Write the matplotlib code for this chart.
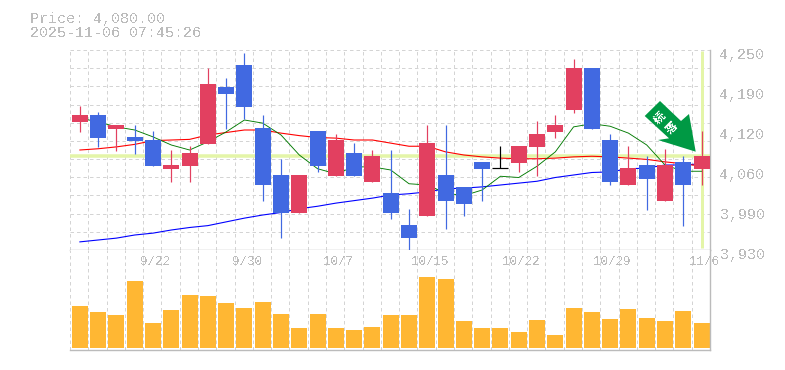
import matplotlib
matplotlib.use("Agg")
import matplotlib.pyplot as plt
from matplotlib.patches import Polygon
from matplotlib.transforms import ScaledTranslation
import numpy as np

plt.rcParams['font.family'] = ['Liberation Mono', 'Noto Sans CJK JP', 'DejaVu Sans']
plt.rcParams['text.antialiased'] = False

price_text = "Price: 4,080.00"
time_text = "2025-11-06 07:45:26"
last_price = 4080

opens = [4135, 4146, 4124, 4111, 4106, 4060, 4064, 4100, 4191, 4226, 4125, 4050,
         3989, 4120, 4048, 4085, 4039, 4021, 3970, 3984, 4050, 4031, 4071, 4061,
         4069, 4095, 4119, 4154, 4221, 4106, 4034, 4066, 4008, 4071, 4060]
closes = [4146, 4109, 4130, 4104, 4064, 4066, 4085, 4196, 4180, 4159, 4034, 3989,
          4050, 4064, 4106, 4048, 4080, 3989, 3949, 4101, 4008, 4004, 4060, 4061,
          4096, 4116, 4130, 4221, 4124, 4039, 4061, 4044, 4066, 4034, 4080]
highs = [4160, 4151, 4130, 4130, 4120, 4090, 4096, 4221, 4205, 4245, 4146, 4076,
         4050, 4120, 4116, 4101, 4090, 4090, 3996, 4130, 4130, 4031, 4071, 4096,
         4096, 4136, 4146, 4236, 4221, 4116, 4096, 4080, 4092, 4080, 4120]
lows = [4119, 4095, 4088, 4084, 4064, 4039, 4039, 4100, 4124, 4140, 4008, 3949,
        3989, 4055, 4048, 4048, 4039, 3980, 3930, 3984, 3964, 3984, 4008, 4061,
        4055, 4048, 4109, 4149, 4124, 4034, 4034, 3994, 4008, 3968, 4034]

ma_short = [4141, 4135, 4127, 4122, 4111, 4098, 4090, 4103, 4119, 4138, 4133, 4114,
            4082, 4060, 4052, 4063, 4063, 4058, 4036, 4034, 4021, 4017, 4026, 4048,
            4046, 4064, 4087, 4127, 4132, 4128, 4117, 4098, 4066, 4056, 4056]
ma_mid = [4090, 4092, 4095, 4099, 4105, 4106, 4107, 4114, 4118, 4122, 4122, 4117,
          4113, 4110, 4109, 4106, 4106, 4101, 4096, 4096, 4087, 4082, 4079, 4077,
          4076, 4076, 4077, 4079, 4080, 4079, 4077, 4075, 4071, 4068, 4064]
ma_long = [3943, 3946, 3949, 3954, 3957, 3962, 3966, 3969, 3975, 3981, 3986, 3990,
           3996, 4000, 4005, 4009, 4013, 4018, 4020, 4023, 4028, 4029, 4031, 4034,
           4037, 4040, 4046, 4050, 4054, 4055, 4060, 4061, 4066, 4066, 4068]

volumes = [42, 36, 33, 67, 25, 38, 53, 52, 45, 40, 46, 34, 20, 34, 20, 18, 21, 33,
           33, 71, 69, 27, 20, 20, 16, 28, 13, 40, 36, 29, 39, 30, 27, 37, 25]

date_idx = [4, 9, 14, 19, 24, 29, 34]
date_labels = ["9/22", "9/30", "10/7", "10/15", "10/22", "10/29", "11/6"]
price_ticks = [4250, 4186, 4122, 4058, 3994, 3930]
price_labels = ["4,250", "4,190", "4,120", "4,060", "3,990", "3,930"]

RED = '#E24060'
BLUE = '#4169E1'
LIME = '#E4F5A8'
GRID = '#D4D4D4'
AXIS = '#BBBBBB'
TEXT = '#BCBCBC'

W, H = 785, 370
fig = plt.figure(figsize=(W / 100, H / 100), dpi=100)
ax = fig.add_axes([70 / W, 1 - 250 / H, 640 / W, 200 / H])
vol = fig.add_axes([70 / W, 1 - 350 / H, 640 / W, 100 / H])

n = len(opens)
x = np.arange(n)
edges = np.arange(n + 1) - 0.5
body_w = 0.875
px = 72 / 100

# price panel, shifted a touch so candles sit right of the slot centre
xlim = (-0.54, n - 0.54)
ax.set_xlim(*xlim)
ax.set_ylim(3930, 4250)
dash = (0, (3.5, 3))
ax.hlines(np.linspace(3930, 4250, 12)[1:], xlim[0], xlim[1], color=GRID, lw=1.0 * px, linestyle=dash, zorder=1, clip_on=False)
ax.vlines(edges[:-1] - 0.04, 3930, 4250, color=GRID, lw=1.0 * px, linestyle=dash, zorder=1, clip_on=False)

ax.axhline(last_price, color=LIME, lw=3.5 * px, zorder=2)
ax.vlines(n - 1, 3933, 4248, color=LIME, lw=3 * px, zorder=2)

ax.plot(x, ma_long, color='#0000FF', lw=1.1 * px, zorder=3)
ax.plot(x, ma_mid, color='#FF0000', lw=1.1 * px, zorder=3)
ax.plot(x, ma_short, color='#007A00', lw=0.9 * px, zorder=3)

for i in x:
    o, c = opens[i], closes[i]
    col = RED if c > o else BLUE if c < o else 'black'
    ax.vlines(i, lows[i], highs[i], color=col, lw=1.2 * px, zorder=4)
    if o == c:
        ax.hlines(o, i - body_w / 2, i + body_w / 2, color=col, lw=1.2 * px, zorder=4)
    else:
        ax.bar(i, abs(c - o), bottom=min(o, c), width=body_w, color=col, lw=0, zorder=5)

for s in ['left', 'top']:
    ax.spines[s].set_visible(False)
for s in ['right', 'bottom']:
    ax.spines[s].set_color(AXIS)
    ax.spines[s].set_linewidth(1.4 * px)
ax.set_xticks([])
ax.yaxis.tick_right()
ax.set_yticks(price_ticks)
ax.set_yticklabels(price_labels, color=TEXT, fontsize=10.8)
ax.tick_params(axis='y', length=0, pad=7)
drop = ScaledTranslation(0, -3 / 100, fig.dpi_scale_trans)
for t in ax.get_yticklabels():
    t.set_transform(t.get_transform() + drop)

# volume panel
vol.set_xlim(*xlim)
vol.set_ylim(-2, 98)
vol.vlines(edges[:-1] - 0.04, -2, 98, color=GRID, lw=1.0 * px, linestyle=dash, zorder=1)
vol.bar(x, volumes, width=body_w, color='#FFB733', lw=0, zorder=2)
for s in ['left', 'top']:
    vol.spines[s].set_visible(False)
for s in ['right', 'bottom']:
    vol.spines[s].set_color(AXIS)
    vol.spines[s].set_linewidth(1.4 * px)
vol.set_yticks([])
vol.set_xticks([])
for i, lab in zip(date_idx, date_labels):
    vol.text(i + 0.12, 86, lab, color=TEXT, fontsize=9, ha='center', va='center', zorder=6)

# arrow badge, drawn in figure pixels
arrow_px = [(660, 101), (644.7, 116), (669, 138.3), (658, 140), (695.7, 151.7), (689, 114), (681, 121)]
arrow = Polygon([(a / W, 1 - b / H) for a, b in arrow_px], closed=True, transform=fig.transFigure,
                facecolor='#009944', edgecolor='none', zorder=10)
fig.add_artist(arrow)
for ch, (a, b) in zip("続落", [(660, 118), (671, 128)]):
    fig.text(a / W, 1 - b / H, ch, color='white', fontsize=8, fontweight='bold', rotation=45,
             ha='center', va='center', family=['Noto Sans CJK JP', 'DejaVu Sans'], zorder=11)

fig.text(30 / W, 1 - 18.5 / H, price_text, color=TEXT, fontsize=10.8, ha='left', va='center')
fig.text(30 / W, 1 - 33 / H, time_text, color=TEXT, fontsize=10.8, ha='left', va='center')

plt.savefig("out.png", dpi=100)
